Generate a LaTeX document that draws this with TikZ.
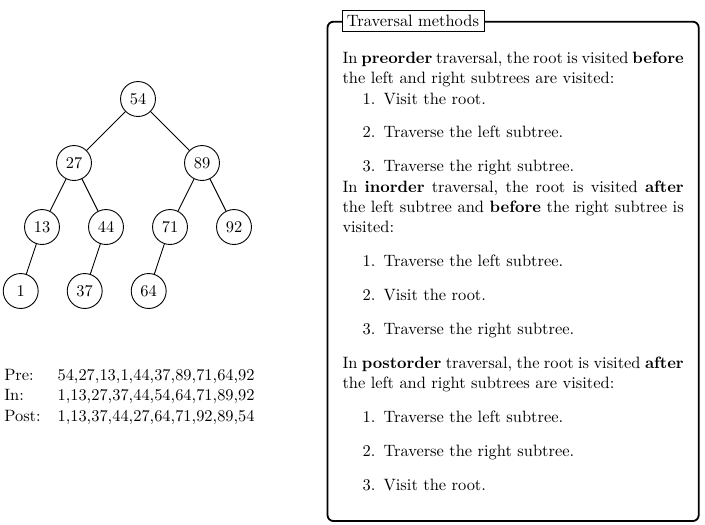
\documentclass[tikz,border=0pt]{standalone}
\newcommand\titem[2]{\par\noindent\hspace*{27.4pt}\llap{#1.\hspace{5.48pt}}#2\par}
\begin{document}
\begin{tikzpicture}[x=0.6667pt,y=-0.6667pt,
  every node/.style={font=\fontsize{10.95}{13.6}\selectfont},
  tn/.style={draw,semithick,circle,minimum size=23.3pt,inner sep=0pt},
  tedge/.style={draw,semithick},
  mybox/.style={draw, very thick, rounded corners, inner xsep=10pt, inner ysep=20pt, anchor=north west},
  fancytitle/.style={draw, fill=white, anchor=west}]
\useasboundingbox (0,0) rectangle (705,524);
% tree
\node[tn] (n54) at (138,99) {54};
\node[tn] (n27) at (74,163) {27};
\node[tn] (n89) at (202,163) {89};
\node[tn] (n13) at (42,227) {13};
\node[tn] (n44) at (106,227) {44};
\node[tn] (n71) at (170,227) {71};
\node[tn] (n92) at (234,227) {92};
\node[tn] (n1) at (20.7,291) {1};
\node[tn] (n37) at (84.7,291) {37};
\node[tn] (n64) at (148.7,291) {64};
\draw[tedge] (n54) -- (n27);
\draw[tedge] (n54) -- (n89);
\draw[tedge] (n27) -- (n13);
\draw[tedge] (n27) -- (n44);
\draw[tedge] (n89) -- (n71);
\draw[tedge] (n89) -- (n92);
\draw[tedge] (n13) -- (n1);
\draw[tedge] (n44) -- (n37);
\draw[tedge] (n71) -- (n64);
% traversals
\node[anchor=north west, inner sep=0pt, align=left] (trav) at (4,368.8) {%
\makebox[35.5pt][l]{Pre:}54,27,13,1,44,37,89,71,64,92\\
\makebox[35.5pt][l]{In:}1,13,27,37,44,54,64,71,89,92\\
\makebox[35.5pt][l]{Post:}1,13,37,44,27,64,71,92,89,54};
% box
\node[mybox] (box) at (326.6,20.8) {\begin{minipage}{227.5pt}\parskip=0pt\hyphenpenalty=10000\relax
In \textbf{preorder} traversal, the root is visited \textbf{before} the left and right subtrees are visited:\par
\titem{1}{Visit the root.}
\vspace{9pt}
\titem{2}{Traverse the left subtree.}
\vspace{9pt}
\titem{3}{Traverse the right subtree.}
In \textbf{inorder} traversal, the root is visited \textbf{after} the left subtree and \textbf{before} the right subtree is visited:\par
\vspace{9pt}
\titem{1}{Traverse the left subtree.}
\vspace{9pt}
\titem{2}{Visit the root.}
\vspace{9pt}
\titem{3}{Traverse the right subtree.}
\vspace{9pt}
In \textbf{postorder} traversal, the root is visited \textbf{after} the left and right subtrees are visited:\par
\vspace{9pt}
\titem{1}{Traverse the left subtree.}
\vspace{9pt}
\titem{2}{Traverse the right subtree.}
\vspace{9pt}
\titem{3}{Visit the root.}
\end{minipage}};
\node[fancytitle] (title) at ([xshift=10pt]box.north west) {Traversal methods};
\end{tikzpicture}
\end{document}
